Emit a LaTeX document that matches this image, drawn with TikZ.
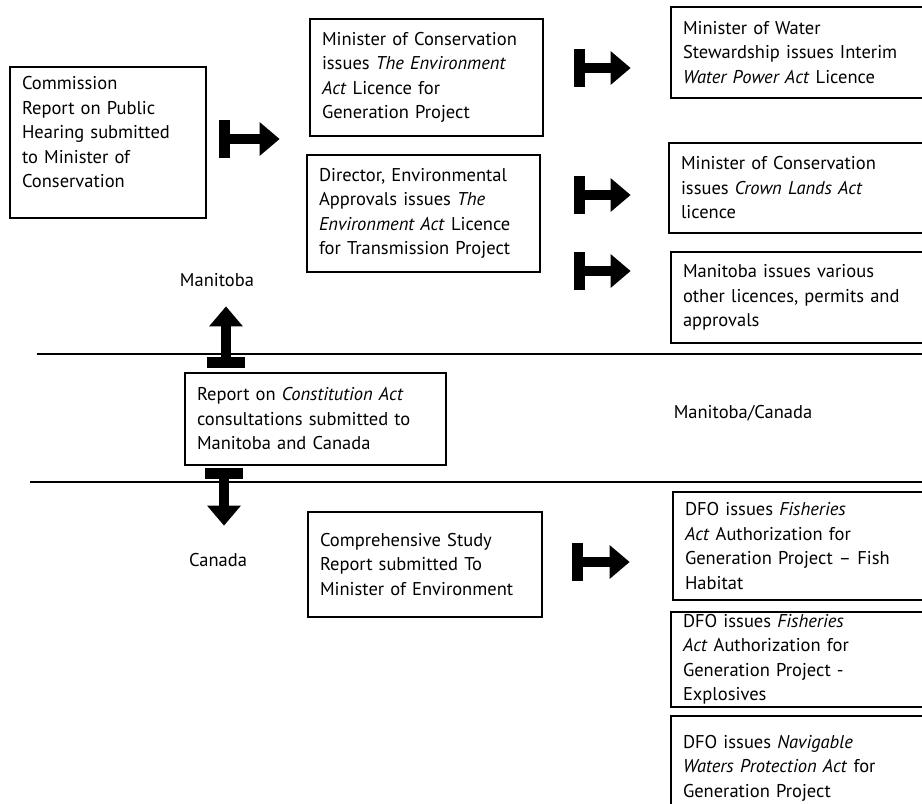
\documentclass[tikz,border=0pt]{standalone}
\usepackage{fontspec}
\setmainfont{PT Sans}
\usetikzlibrary{arrows.meta}

\begin{document}
\begin{tikzpicture}[x=1pt, y=1pt,
                    Box/.style={draw, line width=1.1pt, align=left, inner xsep=12pt, inner ysep=1pt,
                                font=\fontsize{18.5}{24.5}\selectfont},
                    fat_arrow/.style={line width=10pt,
                                arrows={Rectangle[length=11pt,width=38pt,line width=0pt]-Triangle[length=20pt,width=34pt,line width=0pt]}},
                    region_label/.style={font=\fontsize{18.5}{22}\selectfont}
                    ]
        \useasboundingbox (0,0) rectangle (922,-804);
        \clip (0,0) rectangle (922,-804);

        \draw[line width=2.5pt] (37,-354) -- (930,-354);
        \draw[line width=2.5pt] (30,-482) -- (930,-482);

        \node[Box, text width=172pt, minimum height=151pt, text depth=119pt] (Comm) at (108,-142.5)
            {Commission\\Report on Public\\Hearing submitted\\to Minister of\\Conservation};
        \node[Box, text width=209pt, minimum height=117pt] (EnvGen) at (426.5,-77.5)
            {Minister of Conservation\\issues \textit{The Environment}\\\textit{Act} Licence for\\Generation Project};
        \node[Box, text width=209pt, minimum height=117pt] (EnvTrans) at (423.5,-213.5)
            {Director, Environmental\\Approvals issues \textit{The}\\\textit{Environment Act} Licence\\for Transmission Project};
        \node[Box, text width=256pt, minimum height=91pt] (Water) at (811,-52.5)
            {Minister of Water\\Stewardship issues Interim\\\textit{Water Power Act} Licence};
        \node[Box, text width=256pt, minimum height=90pt] (Crown) at (809,-188)
            {Minister of Conservation\\issues \textit{Crown Lands Act}\\licence};
        \node[Box, text width=256pt, minimum height=91pt] (Other) at (811,-297.5)
            {Manitoba issues various\\other licences, permits and\\approvals};
        \node[Box, text width=237pt, minimum height=92pt] (Consti) at (315.5,-419)
            {Report on \textit{Constitution Act}\\consultations submitted to\\Manitoba and Canada};
        \node[Box, text width=210pt, minimum height=105pt] (Study) at (425,-564.5)
            {Comprehensive Study\\Report submitted To\\Minister of Environment};
        \node[Box, text width=256pt, minimum height=108pt] (Fish) at (813,-546)
            {DFO issues \textit{Fisheries}\\\textit{Act} Authorization for\\Generation Project \textendash{} Fish\\Habitat};
        \node[Box, text width=256pt, minimum height=95pt] (Explo) at (811,-659.5)
            {DFO issues \textit{Fisheries}\\\textit{Act} Authorization for\\Generation Project -\\Explosives};
        \node[Box, text width=256pt, minimum height=104pt] (Navig) at (811,-768)
            {DFO issues \textit{Navigable}\\\textit{Waters Protection Act} for\\Generation Project};

        \node[region_label] (Mb) at (217,-280) {Manitoba};
        \node[region_label] (MbCa) at (743,-413) {Manitoba/Canada};
        \node[region_label] (Ca) at (218,-560) {Canada};

        \draw[fat_arrow] ([xshift=12pt,yshift=3.5pt]Comm.east) -- ++(61,0);
        \draw[fat_arrow] ([xshift=30pt,yshift=9.5pt]EnvGen.east) -- ++(57,0);
        \draw[fat_arrow] ([xshift=33pt,yshift=18.5pt]EnvTrans.east) -- ++(57,0);
        \draw[fat_arrow] ([xshift=33pt,yshift=-57.5pt]EnvTrans.east) -- ++(57,0);
        \draw[fat_arrow] ([xshift=29pt,yshift=2.5pt]Study.east) -- ++(58,0);
        \draw[fat_arrow] ([xshift=-89.5pt,yshift=4pt]Consti.north) -- ++(0,62);
        \draw[fat_arrow] ([xshift=-91.5pt,yshift=-2pt]Consti.south) -- ++(0,-58);
    \end{tikzpicture}
\end{document}
